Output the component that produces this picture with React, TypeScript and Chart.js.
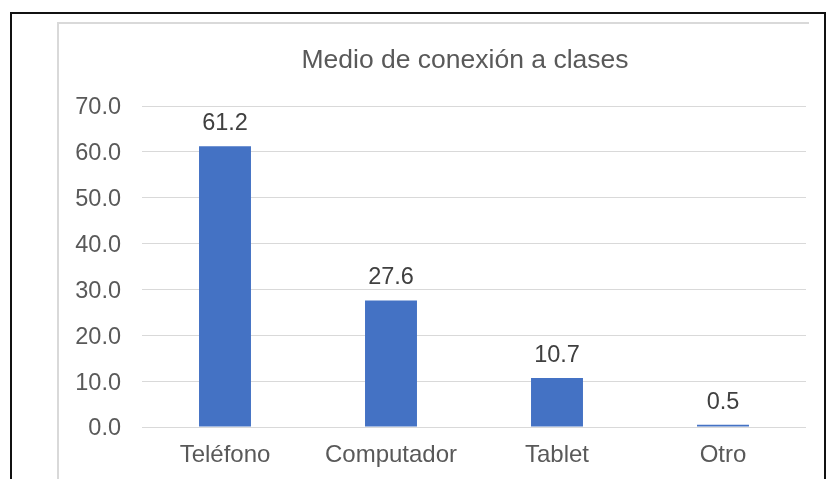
import React, { useEffect, useRef } from "react";
import { Chart, registerables } from "chart.js";

Chart.register(...registerables);

const chartTitle = "Medio de conexión a clases";
const categories: (string | string[])[] = [["Teléfono", "celular"], "Computador", "Tablet", "Otro"];
const values = [61.2, 27.6, 10.7, 0.5];
const yTicks = [0, 10, 20, 30, 40, 50, 60, 70];

const FONT = "'Liberation Sans', Arial, sans-serif";

const dataLabels = {
  id: "dataLabels",
  afterDatasetsDraw(chart: any) {
    const ctx = chart.ctx;
    const meta = chart.getDatasetMeta(0);
    ctx.save();
    ctx.font = `23.5px ${FONT}`;
    ctx.fillStyle = "#404040";
    ctx.textAlign = "center";
    ctx.textBaseline = "alphabetic";
    meta.data.forEach((bar: any, i: number) => {
      ctx.fillText(values[i].toFixed(1), bar.x, bar.y - 16);
    });
    ctx.restore();
  },
};

const titleDraw = {
  id: "titleDraw",
  afterDraw(chart: any) {
    const ctx = chart.ctx;
    ctx.save();
    ctx.font = `26.5px ${FONT}`;
    ctx.fillStyle = "#595959";
    ctx.textAlign = "center";
    ctx.textBaseline = "alphabetic";
    ctx.fillText(chartTitle, 465, 68);
    ctx.restore();
  },
};

export default function App() {
  const ref = useRef<HTMLCanvasElement>(null);
  useEffect(() => {
    if (!ref.current) return;
    const chart = new Chart(ref.current, {
      type: "bar",
      data: {
        labels: categories,
        datasets: [
          {
            data: values,
            backgroundColor: "#4472C4",
            barPercentage: 0.313,
            categoryPercentage: 1,
          },
        ],
      },
      options: {
        responsive: false,
        animation: false,
        devicePixelRatio: 1,
        layout: { padding: { left: 0, right: 27, top: 106, bottom: 0 } },
        plugins: {
          legend: { display: false },
          tooltip: { enabled: false },
          title: { display: false },
        },
        scales: {
          x: {
            grid: { display: false, drawTicks: false },
            border: { display: false },
            ticks: {
              color: "#595959",
              font: { family: FONT, size: 24, lineHeight: 1.2 },
              padding: 14,
              maxRotation: 0,
              autoSkip: false,
            },
            afterFit: (s: any) => {
              s.height = 47;
            },
          },
          y: {
            min: 0,
            max: 70,
            afterBuildTicks: (s: any) => {
              s.ticks = yTicks.map((v) => ({ value: v }));
            },
            grid: { color: "#d9d9d9", lineWidth: 1, drawTicks: false },
            border: { display: false },
            ticks: {
              color: "#595959",
              font: { family: FONT, size: 23.5 },
              padding: 21,
              labelOffset: 2,
              callback: (v: any) => Number(v).toFixed(1),
            },
            afterFit: (s: any) => {
              s.width = 142;
            },
          },
        },
      },
      plugins: [dataLabels, titleDraw],
    });
    return () => chart.destroy();
  }, []);

  return (
    <div style={{ position: "absolute", left: 0, top: 0, width: 833, height: 479, overflow: "hidden", background: "#fff" }}>
      <div
        style={{
          position: "absolute",
          left: 10,
          top: 12,
          width: 812,
          height: 500,
          borderTop: "2px solid #111",
          borderLeft: "2px solid #111",
          borderRight: "2px solid #111",
        }}
      />
      <div
        style={{
          position: "absolute",
          left: 57,
          top: 22,
          width: 750,
          height: 500,
          borderTop: "2px solid #d9d9d9",
          borderLeft: "2px solid #d9d9d9",
        }}
      />
      <canvas ref={ref} width={833} height={474} style={{ position: "absolute", left: 0, top: 0 }} />
    </div>
  );
}
